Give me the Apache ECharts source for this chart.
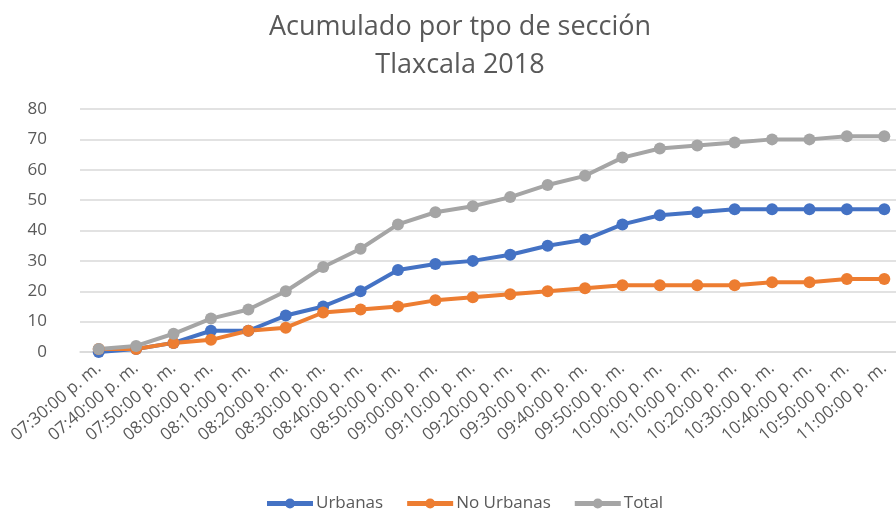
<!DOCTYPE html>
<html>
<head>
<meta charset="utf-8">
<script src="https://cdn.jsdelivr.net/npm/echarts@6/dist/echarts.min.js"></script>
<style>
html,body{margin:0;padding:0;background:#fff;}
#chart{width:896px;height:512px;}
</style>
</head>
<body>
<div id="chart"></div>
<script>
// horas (eje x)
var horas=['07:30:00 p. m.','07:40:00 p. m.','07:50:00 p. m.','08:00:00 p. m.','08:10:00 p. m.','08:20:00 p. m.',
	'08:30:00 p. m.','08:40:00 p. m.','08:50:00 p. m.','09:00:00 p. m.','09:10:00 p. m.','09:20:00 p. m.',
	'09:30:00 p. m.','09:40:00 p. m.','09:50:00 p. m.','10:00:00 p. m.','10:10:00 p. m.','10:20:00 p. m.',
	'10:30:00 p. m.','10:40:00 p. m.','10:50:00 p. m.','11:00:00 p. m.'];
// series
var urbanas=[0,1,3,7,7,12,15,20,27,29,30,32,35,37,42,45,46,47,47,47,47,47];
var noUrbanas=[1,1,3,4,7,8,13,14,15,17,18,19,20,21,22,22,22,22,23,23,24,24];
var total=[1,2,6,11,14,20,28,34,42,46,48,51,55,58,64,67,68,69,70,70,71,71];

var fuente='"Open Sans", "Noto Sans", sans-serif';
// icono de leyenda: linea gruesa con punto
var iconoLinea='path://M0,2.5L46,2.5L46,7.5L0,7.5Z M18,5A5,5 0 1,1 28,5A5,5 0 1,1 18,5Z';
var myChart=echarts.init(document.getElementById('chart'));

function Linea(name,color,data){
	this.name=name;
	this.type='line';
	this.data=data;
	this.symbol='circle';
	this.symbolSize=12;
	this.itemStyle={color:color};
	this.lineStyle={color:color,width:4};
	this.emphasis={disabled:true};
}

var option={
	animation:false,
	title:{
		text:'Acumulado por tpo de sección\nTlaxcala 2018',
		left:455,
		textAlign:'center',
		top:3,
		textStyle:{fontFamily:fuente,fontSize:27,fontWeight:'normal',color:'#595959',lineHeight:38}
	},
	legend:{
		data:['Urbanas','No Urbanas','Total'],
		top:490,
		left:262,
		icon:iconoLinea,
		itemWidth:46,
		itemHeight:10,
		itemGap:24,
		textStyle:{fontFamily:fuente,fontSize:17,color:'#595959',padding:[0,0,0,-2]}
	},
	grid:{left:80,top:109,width:823,height:243,containLabel:false,outerBoundsMode:'none'},
	xAxis:{
		type:'category',
		data:horas,
		boundaryGap:true,
		axisLine:{lineStyle:{color:'#d9d9d9',width:1.5}},
		axisTick:{show:false},
		axisLabel:{rotate:40,interval:0,fontFamily:fuente,fontSize:17,color:'#595959',margin:14}
	},
	yAxis:{
		type:'value',
		min:0,max:80,interval:10,
		axisLine:{show:false},
		axisTick:{show:false},
		splitLine:{lineStyle:{color:'#d9d9d9',width:1.5}},
		axisLabel:{fontFamily:fuente,fontSize:17,color:'#595959',margin:33}
	},
	series:[
		new Linea('Urbanas','#4472C4',urbanas),
		new Linea('No Urbanas','#ED7D31',noUrbanas),
		new Linea('Total','#A5A5A5',total)
	]
};
myChart.setOption(option);
</script>
</body>
</html>
